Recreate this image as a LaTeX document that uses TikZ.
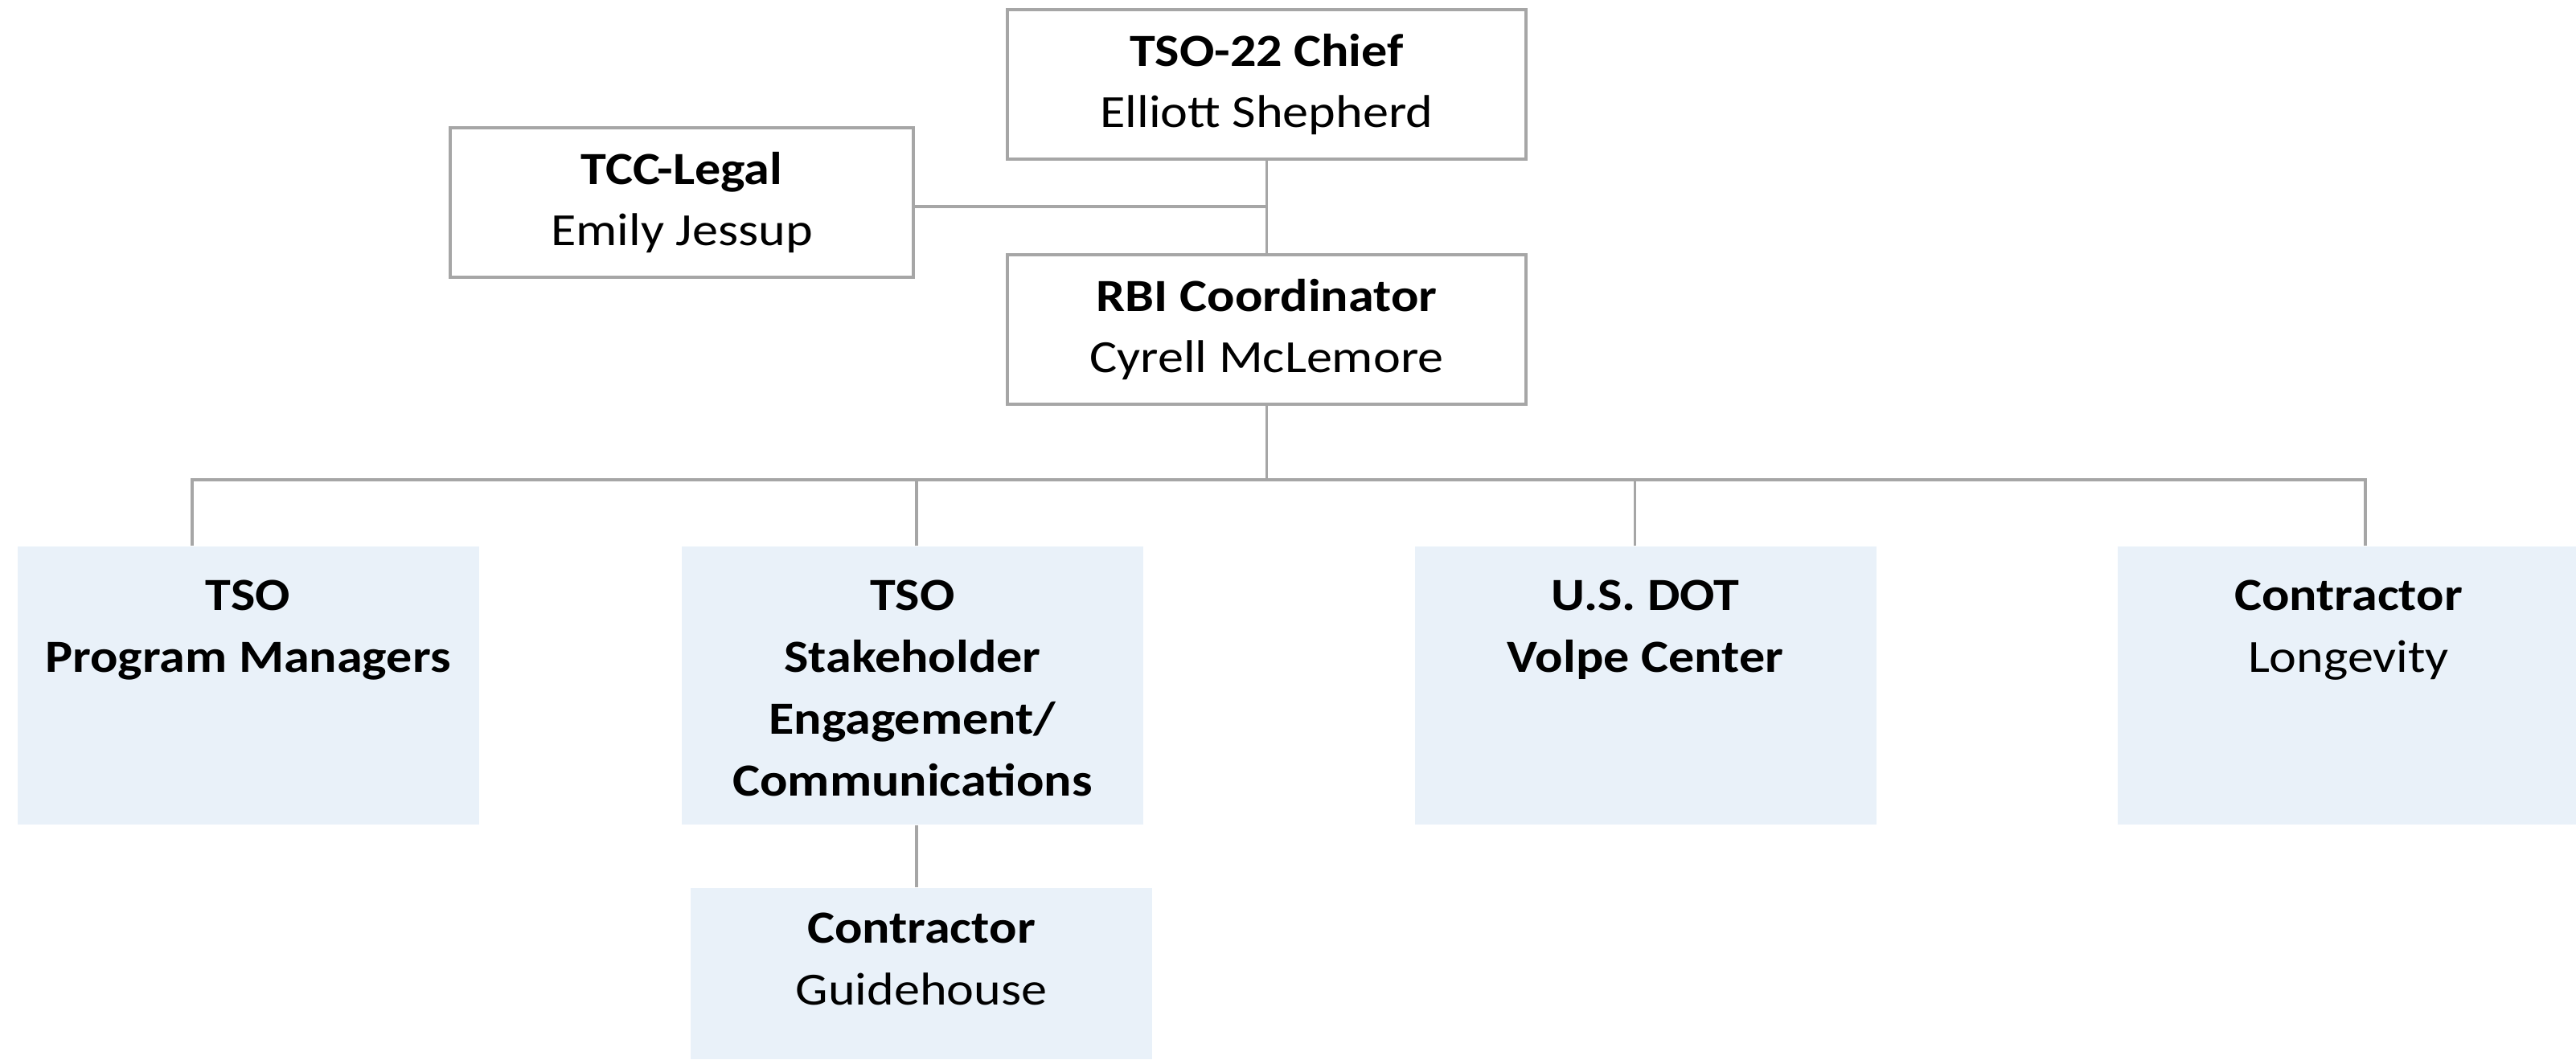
\documentclass[tikz,border=0pt]{standalone}
\usepackage{fontspec}
\setmainfont{Carlito}[FakeStretch=1.12]
\definecolor{linegray}{HTML}{A6A6A6}
\definecolor{unitblue}{HTML}{E9F1F9}
\tikzset{
    office/.style={rectangle, draw=linegray, line width=1.2pt, fill=white, minimum width=6.45cm, minimum height=1.86cm, align=center, inner sep=0pt, font=\fontsize{16.3}{21.9}\selectfont},
    unit/.style={rectangle, fill=unitblue, minimum width=5.74cm, minimum height=3.46cm, inner sep=0pt},
    unittext/.style={anchor=north, align=center, inner sep=0pt, font=\fontsize{16.3}{21.9}\selectfont},
    link/.style={draw=linegray, line width=1.1pt},
}
\begin{document}
\begin{tikzpicture}
    \useasboundingbox (0,0) rectangle (32.04,-13.18);
    \node[office] at (15.755,-1.05) (chief) {\textbf{TSO-22 Chief}\\Elliott Shepherd};
    \node[office, minimum width=5.76cm] at (8.48,-2.52) (legal) {\textbf{TCC-Legal}\\Emily Jessup};
    \node[office] at (15.755,-4.10) (rbi) {\textbf{RBI Coordinator}\\Cyrell McLemore};
    \node[unit] at (3.085,-8.53) (pm) {};
    \node[unit] at (11.35,-8.53) (sec) {};
    \node[unit] at (20.465,-8.53) (volpe) {};
    \node[unit] at (29.21,-8.53) (longevity) {};
    \node[unit, minimum height=2.13cm] at (11.46,-12.115) (guide) {};
    \node[unittext] at ([yshift=-0.42cm]pm.north) (pmtext) {\textbf{TSO}\\\textbf{Program Managers}};
    \node[unittext] at ([yshift=-0.42cm]sec.north) (sectext) {\textbf{TSO}\\\textbf{Stakeholder}\\\textbf{Engagement/}\\\textbf{Communications}};
    \node[unittext] at ([yshift=-0.42cm]volpe.north) (volpetext) {\textbf{U.S. DOT}\\\textbf{Volpe Center}};
    \node[unittext] at ([yshift=-0.42cm]longevity.north) (longevitytext) {\textbf{Contractor}\\Longevity};
    \node[unittext] at ([yshift=-0.31cm]guide.north) (guidetext) {\textbf{Contractor}\\Guidehouse};
    \coordinate (bus) at (15.755,-5.97);
    \draw[link] (chief) -- (rbi);
    \draw[link] ([yshift=-0.05cm]legal.east) -- ([yshift=-0.05cm]legal.east -| chief.south);
    \draw[link] (rbi.south) -- (bus);
    \draw[link] ([xshift=-0.695cm]pm.north) |- (bus);
    \draw[link] ([xshift=0.05cm]sec.north) |- (bus);
    \draw[link] ([xshift=-0.13cm]volpe.north) |- (bus);
    \draw[link] ([xshift=0.21cm]longevity.north) |- (bus);
    \draw[link] ([xshift=0.05cm]sec.south) -- ([xshift=0.05cm]sec.south |- guide.north);
\end{tikzpicture}
\end{document}
